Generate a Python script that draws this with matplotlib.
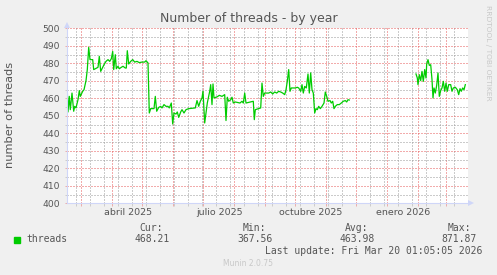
import datetime as dt

import matplotlib
matplotlib.use("Agg")
import matplotlib.pyplot as plt
import matplotlib.dates as mdates

# day offsets from the graph start (2025-02-15) and thread counts
days1 = [0, 1, 2.3, 3.3, 5, 6.7, 7.7, 9, 11, 12.3, 13.3, 15.7, 17, 19, 20.3, 21.7, 23, 25.7,
         26.7, 28.3, 31, 32.3, 33.7, 35, 37, 39, 41, 42.7, 44.3, 45.7, 46.7, 48.3, 49.3, 51,
         52.3, 54.3, 56, 58.3, 59.3, 60.3, 61.7, 63.7, 65.7, 67.7, 70, 72.3, 75, 77.7, 79, 81,
         82.3, 83.7, 87, 88.3, 89.7, 91.7, 93.7, 95, 97, 99, 101, 102.3, 104.3, 105.7, 107, 109,
         110.3, 111.7, 113.7, 115, 117, 119, 121.7, 128.3, 130, 131.7, 133.3, 135, 136, 137.7,
         139, 140.3, 141.7, 142.7, 143.7, 145, 146, 147, 150.3, 152.3, 155, 157.7, 159, 160.3,
         161.7, 163.7, 165, 166.3, 168.3, 173, 175, 176.3, 177.7, 179, 186.3, 187.3, 188.3,
         191.7, 193.7, 195, 196.3, 197.7, 201.7, 203.7, 205.7, 207.7, 209.7, 211.7, 213.7,
         215.7, 217.7, 219, 220.3, 221.7, 223, 224.3, 228.3, 230.3, 231.7, 233.7, 235, 236.3,
         237.7, 239.3, 241, 242.3, 243.7, 245, 246.3, 247.7, 249, 250.3, 251.7, 253.3, 255, 257,
         258.3, 259.7, 261, 263, 264.3, 265.7, 267, 268.3, 270.3, 272.3, 274.3, 276.3, 278.3,
         279.7, 281, 282.3]
threads1 = [469.7, 452.2, 461.1, 453.5, 463, 452.6, 455.4, 454.5, 459.2, 464.4, 461.1, 464, 464.9,
            470.1, 476.4, 489.1, 482.1, 482.1, 476.4, 476.9, 477.7, 484, 475.4, 476.9, 479.2,
            481.1, 482.1, 481.1, 482.6, 486.8, 476.4, 484.9, 476.9, 478.3, 476.9, 477.7, 478.3,
            477.3, 477.3, 487.2, 479.6, 481.1, 482.1, 480.7, 481.1, 480.4, 480.7, 480.7, 481.5,
            480.2, 451.6, 454.1, 454.1, 461.1, 452.6, 454.8, 455.4, 454.5, 456.4, 455.4, 455.4,
            454.5, 457.3, 445.3, 451.6, 451, 452.2, 449.1, 452.2, 453.5, 451.6, 453.5, 454.1,
            454.5, 458.7, 455.4, 458.3, 460.2, 464, 445.9, 451.6, 457.3, 461.1, 464, 467.8, 456.4,
            468.2, 460.2, 460.9, 461.7, 461.1, 462.1, 447.3, 460.6, 458.3, 459.2, 460.6, 457.3,
            457.9, 457.3, 458.3, 457.3, 463, 457.3, 458.3, 447.8, 453.5, 454.1, 454.5, 468.7,
            461.1, 463, 463, 463.6, 462.5, 463.6, 463, 464, 463.6, 463, 462.1, 464.9, 469.7, 476.4,
            464, 465.9, 465.9, 466.3, 465.9, 464, 467.8, 463, 466.8, 465.9, 473.9, 463, 474.5,
            464.9, 463, 451.6, 454.1, 453.5, 455.4, 454.1, 455.4, 457.3, 463.6, 461.1, 458.3,
            458.7, 457.3, 458.3, 454.1, 455.4, 456.4, 456.4, 457.3, 458.3, 458.7, 457.9, 459.2,
            459]

days2 = [349, 350.3, 351, 352.3, 353.7, 355, 356.3, 357.7, 359, 359.7, 361, 362.3, 363.7, 365,
         366, 367, 368.3, 369.7, 371, 372.3, 373.7, 375, 376.3, 377.7, 379, 380.3, 381.7, 383.7,
         385, 386.3, 388.3, 390.3, 391.7, 393, 394.3, 395.7, 397, 398.3]
threads2 = [473.9, 471.6, 467.8, 473.5, 470.1, 475.4, 469.7, 476.4, 471.6, 479.6, 482.1, 478.8,
            479.2, 470.7, 460.2, 465.9, 463, 467.4, 474.5, 461.1, 464.4, 465.9, 469.7, 464, 468.7,
            464, 467.8, 467.8, 464, 465.9, 466.3, 464.9, 462.1, 465.5, 464, 465.9, 464.9, 467.8]

month_labels = ["abril 2025", "julio 2025", "octubre 2025", "enero 2026"]
label_months = [(2025, 4), (2025, 7), (2025, 10), (2026, 1)]
y_ticks = [400, 410, 420, 430, 440, 450, 460, 470, 480, 490, 500]
stats_names = ["Cur:", "Min:", "Avg:", "Max:"]
stats_values = ["468.21", "367.56", "463.98", "871.87"]

start = dt.datetime(2025, 2, 15)
end = dt.datetime(2026, 3, 22, 12)

W, H = 497, 275
FONT = "#555555"
GREEN = "#00CC00"
AXIS = "#CFD6F8"


def fx(x):
    return x / W


def fy(y):
    return 1 - y / H


fig = plt.figure(figsize=(W / 100, H / 100), dpi=100, facecolor="#F0F0F0")
ax = fig.add_axes([fx(67), fy(203.3), 400.5 / W, 175 / H])
ax.set_facecolor("white")

t1 = [start + dt.timedelta(days=d) for d in days1]
t2 = [start + dt.timedelta(days=d) for d in days2]
ax.plot(t1, threads1, color=GREEN, lw=0.9, zorder=3)
ax.plot(t2, threads2, color=GREEN, lw=0.9, zorder=3)

ax.set_xlim(start, end)
ax.set_ylim(400, 500)

# grid: red major, grey minor, dotted like rrdtool
months = [dt.datetime(2025 + (m - 1) // 12, (m - 1) % 12 + 1, 1) for m in range(3, 16)]
weeks = []
w = dt.datetime(2025, 2, 24)
while w < end:
    weeks.append(w)
    w += dt.timedelta(weeks=2)
ax.set_xticks(months)
ax.set_xticks(weeks, minor=True)
ax.set_xticklabels([])
ax.set_yticks(y_ticks)
ax.set_yticks([v + 5 for v in y_ticks[:-1]], minor=True)

red = (0.9, 0.35, 0.35, 0.45)
grey = (0.6, 0.6, 0.6, 0.42)
ax.grid(True, which="major", color=red, lw=0.72, ls=(0, (1, 2)), zorder=1)
ax.grid(True, which="minor", color=grey, lw=0.72, ls=(0, (1, 2)), zorder=0)
ax.tick_params(axis="x", which="major", length=2.5, width=0.7, color=red)
ax.tick_params(axis="x", which="minor", length=2, width=0.7, color=grey)
ax.tick_params(axis="y", which="major", length=1.5, width=0.7, color=red,
               labelsize=6.6, labelcolor=FONT, pad=3.5)
ax.tick_params(axis="y", which="minor", length=1.5, width=0.7, color=grey)

for s in ["top", "right"]:
    ax.spines[s].set_visible(False)
for s in ["left", "bottom"]:
    ax.spines[s].set_color(AXIS)
    ax.spines[s].set_linewidth(0.8)
    ax.spines[s].set_zorder(4)

ax.plot([0], [1 + 3 / 175], marker="^", ms=4.5, color=AXIS, transform=ax.transAxes,
        clip_on=False, mew=0)
ax.plot([1 + 3 / 400], [0], marker=">", ms=4.5, color=AXIS, transform=ax.transAxes,
        clip_on=False, mew=0)

for (yr, mo), lab in zip(label_months, month_labels):
    ax.annotate(lab, xy=(dt.datetime(yr, mo, 17), 0), xycoords=("data", "axes fraction"),
                xytext=(0, -6.8), textcoords="offset points", ha="center", va="center",
                fontsize=6.8, color=FONT)

fig.text(fx(249), fy(18.5), "Number of threads - by year", ha="center", va="center",
         fontsize=9, color=FONT)
fig.text(fx(10), fy(115), "number of threads", rotation=90, ha="center", va="center",
         fontsize=8.2, color=FONT)
fig.text(fx(488), fy(5), "RRDTOOL / TOBI OETIKER", rotation=270, ha="center", va="top",
         fontsize=5.4, color="#C8C8C8")

mono = "DejaVu Sans Mono"
fig.patches.append(plt.Rectangle((fx(14), fy(242.5)), 6 / W, 6 / H, color=GREEN,
                                 transform=fig.transFigure))
fig.text(fx(26.7), fy(239.5), "threads", ha="left", va="center", family=mono,
         fontsize=7, color=FONT)
name_right = [163.3, 265.7, 368.3, 470.7]
val_right = [170, 272.7, 374.3, 476.7]
for n, v, xn, xv in zip(stats_names, stats_values, name_right, val_right):
    fig.text(fx(xn), fy(228), n, ha="right", va="center", family=mono, fontsize=7, color=FONT)
    fig.text(fx(xv), fy(239.5), v, ha="right", va="center", family=mono, fontsize=7, color=FONT)
fig.text(fx(482.3), fy(251), "Last update: Fri Mar 20 01:05:05 2026", ha="right", va="center",
         family=mono, fontsize=7, color=FONT)
fig.text(fx(248), fy(264), "Munin 2.0.75", ha="center", va="center", fontsize=5.5,
         color="#C8C8C8")

fig.savefig("out.png", dpi=100, facecolor=fig.get_facecolor())
